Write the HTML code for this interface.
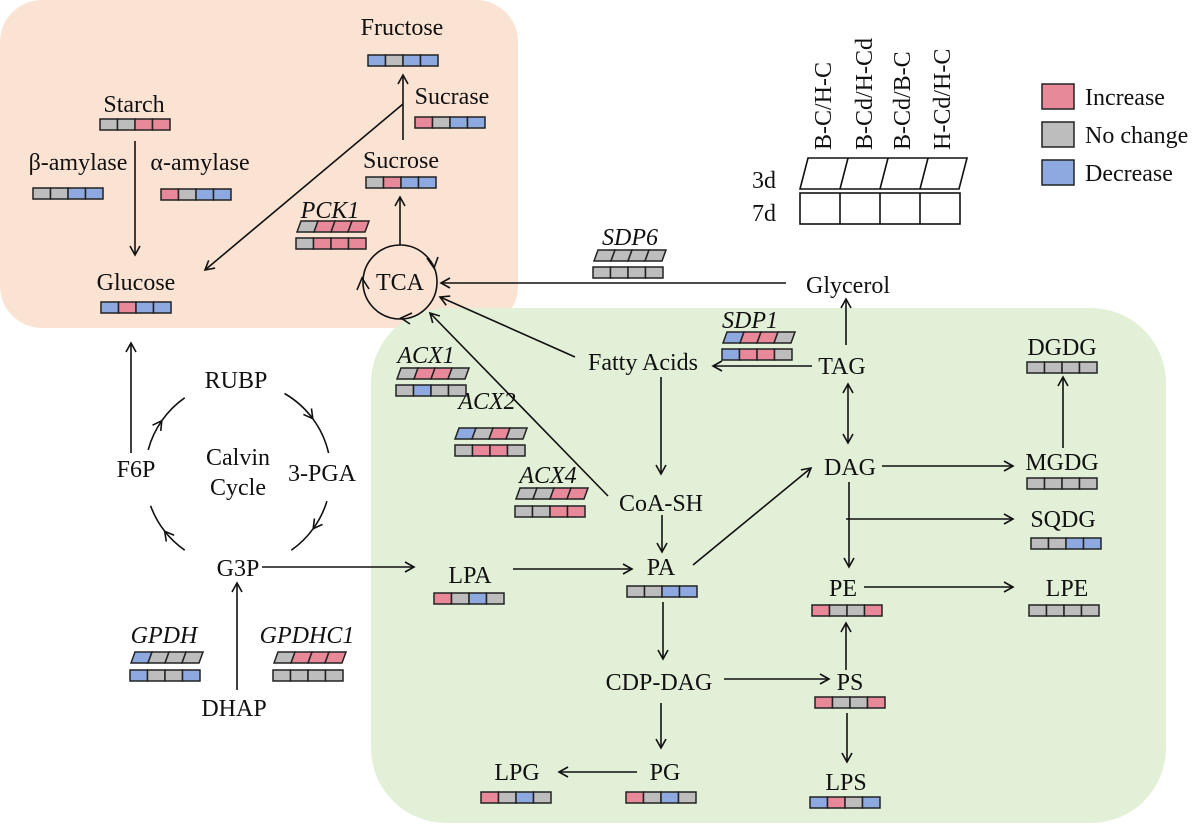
<!DOCTYPE html>
<html><head><meta charset="utf-8"><style>
body{margin:0;background:#fff}
svg{display:block;font-family:"Liberation Serif",serif;}
.r{fill:#e8899a}.g{fill:#bdbdbd}.b{fill:#8ea8e0}
.c rect,.c polygon{stroke:#222;stroke-width:1.5}
text{font-size:24px;fill:#111}
.i{font-style:italic}
.l{stroke:#111;stroke-width:1.6;fill:none}
</style></head><body>
<svg width="1200" height="826" viewBox="0 0 1200 826">
<defs>
<marker id="a" markerWidth="12" markerHeight="12" refX="10" refY="6" orient="auto" markerUnits="userSpaceOnUse">
<path d="M1,1 L10,6 L1,11" fill="none" stroke="#111" stroke-width="1.6"/></marker>
<marker id="s" markerWidth="12" markerHeight="12" refX="2" refY="6" orient="auto" markerUnits="userSpaceOnUse">
<path d="M11,1 L2,6 L11,11" fill="none" stroke="#111" stroke-width="1.6"/></marker>
</defs>
<rect x="0" y="0" width="518" height="328" rx="42" fill="#fbe3d4"/>
<rect x="371" y="308" width="795" height="515" rx="75" fill="#e3f0d8"/>

<g class="l" marker-end="url(#a)">
<path d="M135,141 V255"/>
<path d="M403,104 L205,270"/>
<path d="M403,140 V75"/>
<path d="M400,245 V197"/>
<path d="M786,283 H441"/>
<path d="M575,357 L440,297"/>
<path d="M608,496 L430,313"/>
<path d="M812,366 H713"/>
<path d="M846,345 V299"/>
<path d="M661,377 V474"/>
<path d="M662,515 V552"/>
<path d="M513,569 H632"/>
<path d="M262,567 H414"/>
<path d="M693,565 L811,468"/>
<path d="M882,466 H1013"/>
<path d="M1063,448 V377"/>
<path d="M849,482 V567"/>
<path d="M846,519 H1013"/>
<path d="M864,587 H1013"/>
<path d="M846,670 V623"/>
<path d="M847,713 V762"/>
<path d="M724,679 H829"/>
<path d="M661,703 V748"/>
<path d="M663,602 V659"/>
<path d="M637,772 H559"/>
<path d="M131,453 V343"/>
<path d="M237,690 V583"/>
</g>
<path class="l" d="M848,384 V443" marker-start="url(#s)" marker-end="url(#a)"/>

<g class="l">
<path d="M284.5,393.5 A93,93 0 0 1 312.8,418.7" marker-end="url(#a)"/><path d="M312.8,418.7 A93,93 0 0 1 328.6,453.1"/>
<path d="M326.9,501.2 A93,93 0 0 1 313.2,528.7" marker-end="url(#a)"/><path d="M313.2,528.7 A93,93 0 0 1 291.3,550.2"/>
<path d="M184.7,550.2 A93,93 0 0 1 164.7,531.3" marker-end="url(#a)"/><path d="M164.7,531.3 A93,93 0 0 1 150.6,505.8"/>
<path d="M148.2,449.9 A93,93 0 0 1 161.8,420.7" marker-end="url(#a)"/><path d="M161.8,420.7 A93,93 0 0 1 184.7,397.8"/>
<circle cx="400" cy="282" r="37"/>
<path d="M427,258 L434,268 L438,257"/>
<path d="M357,290 L362,278 L369,289"/>
<path d="M412,313 L401,318 L410,324"/>
</g>

<g class="l" stroke-width="1.5">
<path d="M808,158 H967 L959,189 H800 Z"/>
<path d="M848,158 L840,189 M888,158 L880,189 M928,158 L920,189"/>
<rect x="800" y="193" width="160" height="31"/>
<path d="M840,193 V224 M880,193 V224 M920,193 V224"/>
</g>
<g transform="translate(831,150) rotate(-90)"><text>B-C/H-C</text></g>
<g transform="translate(872,150) rotate(-90)"><text>B-Cd/H-Cd</text></g>
<g transform="translate(910,150) rotate(-90)"><text>B-Cd/B-C</text></g>
<g transform="translate(950,150) rotate(-90)"><text>H-Cd/H-C</text></g>
<text x="752" y="188">3d</text><text x="752" y="221">7d</text>
<g class="c"><rect class="r" x="1042" y="84" width="32" height="25"/><rect class="g" x="1042" y="122" width="32" height="25"/><rect class="b" x="1042" y="160" width="32" height="25"/></g>
<text x="1085" y="105">Increase</text><text x="1085" y="143">No change</text><text x="1085" y="181">Decrease</text>

<g text-anchor="middle">
<text x="402" y="35">Fructose</text>
<text x="452" y="104">Sucrase</text>
<text x="134" y="112">Starch</text>
<text x="78" y="170">β-amylase</text>
<text x="200" y="170">α-amylase</text>
<text x="401" y="168">Sucrose</text>
<text x="330" y="218" class="i">PCK1</text>
<text x="136" y="290">Glucose</text>
<text x="400" y="290">TCA</text>
<text x="630" y="245" class="i">SDP6</text>
<text x="848" y="293">Glycerol</text>
<text x="750" y="328" class="i">SDP1</text>
<text x="842" y="374">TAG</text>
<text x="643" y="370">Fatty Acids</text>
<text x="426" y="363" class="i">ACX1</text>
<text x="487" y="409" class="i">ACX2</text>
<text x="548" y="483" class="i">ACX4</text>
<text x="661" y="511">CoA-SH</text>
<text x="850" y="475">DAG</text>
<text x="1062" y="355">DGDG</text>
<text x="1062" y="470">MGDG</text>
<text x="1063" y="527">SQDG</text>
<text x="1067" y="596">LPE</text>
<text x="843" y="596">PE</text>
<text x="661" y="575">PA</text>
<text x="470" y="583">LPA</text>
<text x="659" y="690">CDP-DAG</text>
<text x="850" y="690">PS</text>
<text x="665" y="780">PG</text>
<text x="517" y="780">LPG</text>
<text x="846" y="790">LPS</text>
<text x="236" y="388">RUBP</text>
<text x="136" y="477">F6P</text>
<text x="322" y="481">3-PGA</text>
<text x="238" y="465">Calvin</text>
<text x="238" y="495">Cycle</text>
<text x="238" y="576">G3P</text>
<text x="234" y="716">DHAP</text>
<text x="164" y="643" class="i">GPDH</text>
<text x="307" y="643" class="i">GPDHC1</text>
</g>

<g class="c">
<g transform="translate(368,55)"><rect class="b" width="17.5" height="11"/><rect class="g" x="17.5" width="17.5" height="11"/><rect class="b" x="35" width="17.5" height="11"/><rect class="b" x="52.5" width="17.5" height="11"/></g>
<g transform="translate(415,117)"><rect class="r" width="17.5" height="11"/><rect class="g" x="17.5" width="17.5" height="11"/><rect class="b" x="35" width="17.5" height="11"/><rect class="b" x="52.5" width="17.5" height="11"/></g>
<g transform="translate(100,119)"><rect class="g" width="17.5" height="11"/><rect class="g" x="17.5" width="17.5" height="11"/><rect class="r" x="35" width="17.5" height="11"/><rect class="r" x="52.5" width="17.5" height="11"/></g>
<g transform="translate(33,188)"><rect class="g" width="17.5" height="11"/><rect class="g" x="17.5" width="17.5" height="11"/><rect class="b" x="35" width="17.5" height="11"/><rect class="b" x="52.5" width="17.5" height="11"/></g>
<g transform="translate(161,189)"><rect class="r" width="17.5" height="11"/><rect class="g" x="17.5" width="17.5" height="11"/><rect class="b" x="35" width="17.5" height="11"/><rect class="b" x="52.5" width="17.5" height="11"/></g>
<g transform="translate(366,177)"><rect class="g" width="17.5" height="11"/><rect class="r" x="17.5" width="17.5" height="11"/><rect class="b" x="35" width="17.5" height="11"/><rect class="b" x="52.5" width="17.5" height="11"/></g>
<g transform="translate(296,238)"><rect class="g" width="17.5" height="11"/><rect class="r" x="17.5" width="17.5" height="11"/><rect class="r" x="35" width="17.5" height="11"/><rect class="r" x="52.5" width="17.5" height="11"/></g>
<g transform="translate(101,302)"><rect class="b" width="17.5" height="11"/><rect class="r" x="17.5" width="17.5" height="11"/><rect class="b" x="35" width="17.5" height="11"/><rect class="b" x="52.5" width="17.5" height="11"/></g>
<g transform="translate(593,267)"><rect class="g" width="17.5" height="11"/><rect class="g" x="17.5" width="17.5" height="11"/><rect class="g" x="35" width="17.5" height="11"/><rect class="g" x="52.5" width="17.5" height="11"/></g>
<g transform="translate(722,349)"><rect class="b" width="17.5" height="11"/><rect class="r" x="17.5" width="17.5" height="11"/><rect class="r" x="35" width="17.5" height="11"/><rect class="g" x="52.5" width="17.5" height="11"/></g>
<g transform="translate(396,385)"><rect class="g" width="17.5" height="11"/><rect class="b" x="17.5" width="17.5" height="11"/><rect class="g" x="35" width="17.5" height="11"/><rect class="g" x="52.5" width="17.5" height="11"/></g>
<g transform="translate(455,445)"><rect class="g" width="17.5" height="11"/><rect class="r" x="17.5" width="17.5" height="11"/><rect class="r" x="35" width="17.5" height="11"/><rect class="g" x="52.5" width="17.5" height="11"/></g>
<g transform="translate(515,506)"><rect class="g" width="17.5" height="11"/><rect class="g" x="17.5" width="17.5" height="11"/><rect class="r" x="35" width="17.5" height="11"/><rect class="r" x="52.5" width="17.5" height="11"/></g>
<g transform="translate(1027,362)"><rect class="g" width="17.5" height="11"/><rect class="g" x="17.5" width="17.5" height="11"/><rect class="g" x="35" width="17.5" height="11"/><rect class="g" x="52.5" width="17.5" height="11"/></g>
<g transform="translate(1027,478)"><rect class="g" width="17.5" height="11"/><rect class="g" x="17.5" width="17.5" height="11"/><rect class="g" x="35" width="17.5" height="11"/><rect class="g" x="52.5" width="17.5" height="11"/></g>
<g transform="translate(1031,538)"><rect class="g" width="17.5" height="11"/><rect class="g" x="17.5" width="17.5" height="11"/><rect class="b" x="35" width="17.5" height="11"/><rect class="b" x="52.5" width="17.5" height="11"/></g>
<g transform="translate(1029,605)"><rect class="g" width="17.5" height="11"/><rect class="g" x="17.5" width="17.5" height="11"/><rect class="g" x="35" width="17.5" height="11"/><rect class="g" x="52.5" width="17.5" height="11"/></g>
<g transform="translate(812,605)"><rect class="r" width="17.5" height="11"/><rect class="g" x="17.5" width="17.5" height="11"/><rect class="g" x="35" width="17.5" height="11"/><rect class="r" x="52.5" width="17.5" height="11"/></g>
<g transform="translate(627,586)"><rect class="g" width="17.5" height="11"/><rect class="g" x="17.5" width="17.5" height="11"/><rect class="b" x="35" width="17.5" height="11"/><rect class="b" x="52.5" width="17.5" height="11"/></g>
<g transform="translate(434,593)"><rect class="r" width="17.5" height="11"/><rect class="g" x="17.5" width="17.5" height="11"/><rect class="b" x="35" width="17.5" height="11"/><rect class="g" x="52.5" width="17.5" height="11"/></g>
<g transform="translate(815,697)"><rect class="r" width="17.5" height="11"/><rect class="g" x="17.5" width="17.5" height="11"/><rect class="g" x="35" width="17.5" height="11"/><rect class="r" x="52.5" width="17.5" height="11"/></g>
<g transform="translate(626,792)"><rect class="r" width="17.5" height="11"/><rect class="g" x="17.5" width="17.5" height="11"/><rect class="b" x="35" width="17.5" height="11"/><rect class="g" x="52.5" width="17.5" height="11"/></g>
<g transform="translate(481,792)"><rect class="r" width="17.5" height="11"/><rect class="g" x="17.5" width="17.5" height="11"/><rect class="b" x="35" width="17.5" height="11"/><rect class="g" x="52.5" width="17.5" height="11"/></g>
<g transform="translate(810,797)"><rect class="b" width="17.5" height="11"/><rect class="r" x="17.5" width="17.5" height="11"/><rect class="g" x="35" width="17.5" height="11"/><rect class="b" x="52.5" width="17.5" height="11"/></g>
<g transform="translate(130,670)"><rect class="b" width="17.5" height="11"/><rect class="g" x="17.5" width="17.5" height="11"/><rect class="g" x="35" width="17.5" height="11"/><rect class="b" x="52.5" width="17.5" height="11"/></g>
<g transform="translate(273,670)"><rect class="g" width="17.5" height="11"/><rect class="g" x="17.5" width="17.5" height="11"/><rect class="g" x="35" width="17.5" height="11"/><rect class="g" x="52.5" width="17.5" height="11"/></g>
</g>

<g class="c">
<g transform="translate(297,221)"><polygon class="g" points="4,0 21,0 17,11 0,11"/><polygon class="r" points="21,0 38,0 34,11 17,11"/><polygon class="r" points="38,0 55,0 51,11 34,11"/><polygon class="r" points="55,0 72,0 68,11 51,11"/></g>
<g transform="translate(594,250)"><polygon class="g" points="4,0 21,0 17,11 0,11"/><polygon class="g" points="21,0 38,0 34,11 17,11"/><polygon class="g" points="38,0 55,0 51,11 34,11"/><polygon class="g" points="55,0 72,0 68,11 51,11"/></g>
<g transform="translate(723,332)"><polygon class="b" points="4,0 21,0 17,11 0,11"/><polygon class="r" points="21,0 38,0 34,11 17,11"/><polygon class="r" points="38,0 55,0 51,11 34,11"/><polygon class="g" points="55,0 72,0 68,11 51,11"/></g>
<g transform="translate(397,368)"><polygon class="g" points="4,0 21,0 17,11 0,11"/><polygon class="r" points="21,0 38,0 34,11 17,11"/><polygon class="r" points="38,0 55,0 51,11 34,11"/><polygon class="g" points="55,0 72,0 68,11 51,11"/></g>
<g transform="translate(455,428)"><polygon class="b" points="4,0 21,0 17,11 0,11"/><polygon class="g" points="21,0 38,0 34,11 17,11"/><polygon class="r" points="38,0 55,0 51,11 34,11"/><polygon class="g" points="55,0 72,0 68,11 51,11"/></g>
<g transform="translate(516,488)"><polygon class="g" points="4,0 21,0 17,11 0,11"/><polygon class="g" points="21,0 38,0 34,11 17,11"/><polygon class="r" points="38,0 55,0 51,11 34,11"/><polygon class="r" points="55,0 72,0 68,11 51,11"/></g>
<g transform="translate(131,652)"><polygon class="b" points="4,0 21,0 17,11 0,11"/><polygon class="g" points="21,0 38,0 34,11 17,11"/><polygon class="g" points="38,0 55,0 51,11 34,11"/><polygon class="g" points="55,0 72,0 68,11 51,11"/></g>
<g transform="translate(274,652)"><polygon class="g" points="4,0 21,0 17,11 0,11"/><polygon class="r" points="21,0 38,0 34,11 17,11"/><polygon class="r" points="38,0 55,0 51,11 34,11"/><polygon class="r" points="55,0 72,0 68,11 51,11"/></g>
</g>
</svg>
</body></html>
